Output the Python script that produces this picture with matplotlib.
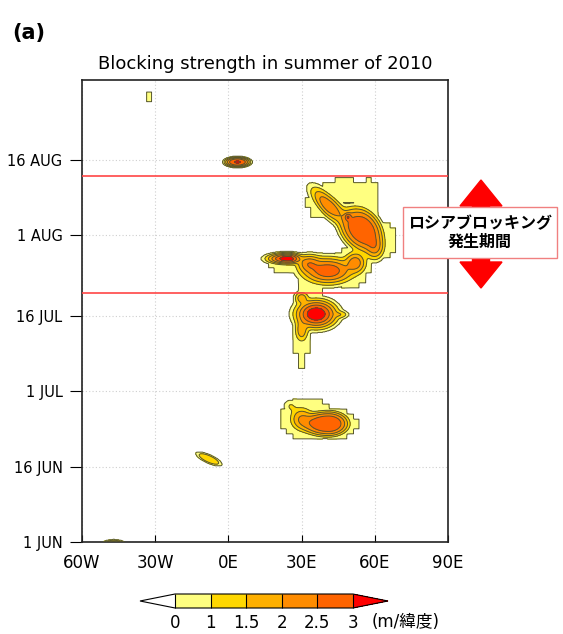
import numpy as np
import matplotlib
matplotlib.use('Agg')
import matplotlib.pyplot as plt
from matplotlib.colors import ListedColormap, BoundaryNorm
from matplotlib.cm import ScalarMappable
from matplotlib.patches import Rectangle, FancyArrow

# ---------------- data ----------------
level_bounds = [0, 1, 1.5, 2, 2.5, 3]
level_labels = ['0', '1', '1.5', '2', '2.5', '3']
level_colors = ['#FFFF80', '#FFD700', '#FFB000', '#FF8C00', '#FF6400']
over_color = '#FF0000'
under_color = '#FFFFFF'

lon_ticks = [-60, -30, 0, 30, 60, 90]
lon_labels = ['60W', '30W', '0E', '30E', '60E', '90E']
day_ticks = [0, 15, 30, 45, 61, 76]          # days after 1 June
day_labels = ['1 JUN', '16 JUN', '1 JUL', '16 JUL', '1 AUG', '16 AUG']

period_start = 49.5   # Russian blocking period (days after 1 June)
period_end = 72.8

# blocking cores: centre lon, centre day, peak strength,
# west / east half-width (deg), half-width in days, tilt, flatness
blob_lon  = [ 3.7, -8.0, -47.0, 24.4, 33.0, 40.8, 52.0, 60.0, 55.0, 49.0, 41.0, 36.0, 30.0, 30.0, 46.0, 41.0, 30.0, 25.5]
blob_day  = [75.5, 16.5,  -0.5, 56.3, 55.3, 53.9, 55.5, 58.5, 62.0, 64.6, 66.8, 45.3, 48.5, 42.0, 45.2, 23.5, 24.5, 27.0]
blob_peak = [3.03, 1.45,  2.0,  3.40, 2.30, 2.90, 2.30, 2.10, 2.95, 2.60, 2.40, 3.50, 1.80, 1.80, 1.30, 2.99, 2.00, 1.00]
blob_sx_w = [ 4.9,  5.4,  4.5,  7.5,  5.0, 10.0,  4.5,  4.0,  9.0,  1.5,  7.0,  7.5,  3.0,  3.0,  3.5, 11.0,  5.0,  3.5]
blob_sx_e = [ 4.9,  5.4,  4.5,  5.0,  5.0, 10.0,  4.5,  4.0,  8.0,  1.5,  8.0,  7.5,  3.0,  3.0,  3.5,  8.0,  5.0,  3.5]
blob_sy   = [0.93,  1.4,  0.9,  1.0,  1.8,  2.5,  2.2,  2.5,  4.3,  0.8,  3.6,  2.5,  1.3,  2.5,  0.8,  2.4,  2.4,  1.5]
blob_rho  = [ 0.0, -0.75, 0.0,  0.0,  0.0,  0.0,  0.0,  0.0, -0.3,  0.0, -0.75, 0.0,  0.0,  0.0,  0.0,  0.0,  0.0,  0.0]
blob_p    = [ 1.5,  1.5,  1.5,  1.0,  1.0,  1.0,  1.0,  1.0,  1.5,  1.0,  1.0,  1.0,  1.0,  1.0,  1.0,  1.5,  1.0,  1.0]
background = 1.0
edge_level = 0.5

# detected-blocking envelopes on the 2.5 deg x 1 day analysis grid (stair-step edges)
env_lon  = [-32.5, 57.5, 48.0, 38.5, 64.5, 50.0, 28.0, 33.0, 35.0, 30.0, 29.0, 32.0, 45.0, 53.0]
env_day  = [ 88.5, 67.0, 70.0, 67.3, 60.0, 54.5, 55.5, 50.5, 46.0, 40.0, 35.5, 24.5, 23.5, 66.5]
env_rlon = [  0.6,  4.5,  9.0,  6.5,  3.5,  8.0, 13.0,  5.0,  9.0,  3.5,  1.5, 11.0,  8.0,  3.0]
env_rday = [  0.6,  5.8,  2.3,  3.3,  4.0,  4.0,  2.3,  2.0,  3.5,  4.0,  2.0,  4.2,  2.8,  3.0]


def strength(LON, DAY):
    parts = []
    for lo, d, pk, sw, se, sy, r, p in zip(blob_lon, blob_day, blob_peak, blob_sx_w,
                                           blob_sx_e, blob_sy, blob_rho, blob_p):
        dx = LON - lo
        sx = np.where(dx < 0, sw, se)
        u = dx / sx
        v = (DAY - d) / sy
        q = (u * u - 2 * r * u * v + v * v) / (1 - r * r)
        parts.append((pk + background) * np.exp(-0.5 * q ** p))
    parts = np.array(parts)
    return (parts ** 4).sum(axis=0) ** 0.25 - background


def envelope(LON, DAY):
    m = np.zeros(LON.shape, dtype=bool)
    for lo, d, rl, rd in zip(env_lon, env_day, env_rlon, env_rday):
        m |= ((LON - lo) / rl) ** 2 + ((DAY - d) / rd) ** 2 <= 1.0
    return m


lon_f = np.arange(-60, 90.01, 0.25)
day_f = np.arange(-2, 93.01, 0.1)
LON, DAY = np.meshgrid(lon_f, day_f)
Z = strength(LON, DAY)

lon_c = np.arange(-60, 90.01, 2.5)
day_c = np.arange(-2, 93.01, 1.0)
LONc, DAYc = np.meshgrid(lon_c, day_c)
Mc = envelope(LONc, DAYc)
ix = np.clip(np.rint((LON - lon_c[0]) / 2.5).astype(int), 0, len(lon_c) - 1)
iy = np.clip(np.rint((DAY - day_c[0]) / 1.0).astype(int), 0, len(day_c) - 1)
mask = Mc[iy, ix]
inside = mask | (Z >= edge_level)
Zd = np.where(inside, np.maximum(Z, 0.02), -0.5)

# ---------------- figure ----------------
W, H = 563, 634
fig = plt.figure(figsize=(W / 100, H / 100), dpi=100)
ax = fig.add_axes([82 / W, 92 / H, 366 / W, 462 / H])

cmap = ListedColormap(level_colors)
cmap.set_over(over_color)
cmap.set_under(under_color)

ax.contourf(LON, DAY, Zd, levels=level_bounds + [20],
            colors=level_colors + [over_color], zorder=2)
ax.contour(LON, DAY, Zd, levels=level_bounds, colors='#55552f',
           linewidths=0.7, zorder=3)

ax.set_xlim(-60, 90)
ax.set_ylim(0, 91.8)
ax.set_xticks(lon_ticks)
ax.set_xticklabels(lon_labels, fontsize=12)
ax.set_yticks(day_ticks)
ax.set_yticklabels(day_labels, fontsize=10.5)
ax.tick_params(axis='x', direction='in', length=5, pad=9)
ax.tick_params(axis='y', direction='out', length=9, pad=5)
ax.grid(True, color='#cfcfcf', linestyle=(0, (1, 2)), linewidth=0.8, zorder=0)
ax.set_axisbelow(True)
for s in ax.spines.values():
    s.set_linewidth(1.2)
    s.set_color('#222222')

for d in (period_start, period_end):
    ax.axhline(d, color='#FF4545', linewidth=1.2, zorder=4)

ax.set_title('Blocking strength in summer of 2010', fontsize=13, pad=8)

fig.text(12 / W, 1 - 33 / H, '(a)', fontsize=15, fontweight='bold',
         va='center', ha='left')

# ---------------- colorbar ----------------
cax = fig.add_axes([140 / W, 26 / H, 248 / W, 14 / H])
norm = BoundaryNorm(level_bounds, cmap.N)
cb = fig.colorbar(ScalarMappable(norm=norm, cmap=cmap), cax=cax,
                  orientation='horizontal', extend='both', extendfrac=0.197,
                  ticks=level_bounds, drawedges=True, spacing='uniform')
cb.set_ticklabels(level_labels)
cb.ax.tick_params(length=0, labelsize=12, pad=4)
cb.outline.set_linewidth(0.8)
cb.dividers.set_linewidth(0.8)
fig.text(372 / W, 1 - 622 / H, '(m/緯度)', fontsize=12, va='center', ha='left',
         family=['DejaVu Sans', 'Noto Sans CJK JP'])

# ---------------- annotation ----------------
cx = 481 / 100
cy = (H - 234) / 100
for tip in (H - 180, H - 288):
    dy = tip / 100 - cy
    fig.patches.append(FancyArrow(cx, cy, 0, dy, width=0.17, head_width=0.42,
                                  head_length=0.26, length_includes_head=True,
                                  color='#FF0000', transform=fig.dpi_scale_trans,
                                  figure=fig, zorder=5))
fig.patches.append(Rectangle((403 / W, 1 - 258 / H), 154 / W, 51 / H,
                             transform=fig.transFigure, figure=fig,
                             facecolor='white', edgecolor='#F08080',
                             linewidth=1.0, zorder=6))
fig.text(480 / W, 1 - 223 / H, 'ロシアブロッキング', fontsize=11.5, fontweight='bold',
         ha='center', va='center', family=['Noto Sans CJK JP'], zorder=7)
fig.text(480 / W, 1 - 242 / H, '発生期間', fontsize=11.5, fontweight='bold',
         ha='center', va='center', family=['Noto Sans CJK JP'], zorder=7)

fig.savefig('out.png', dpi=100)
